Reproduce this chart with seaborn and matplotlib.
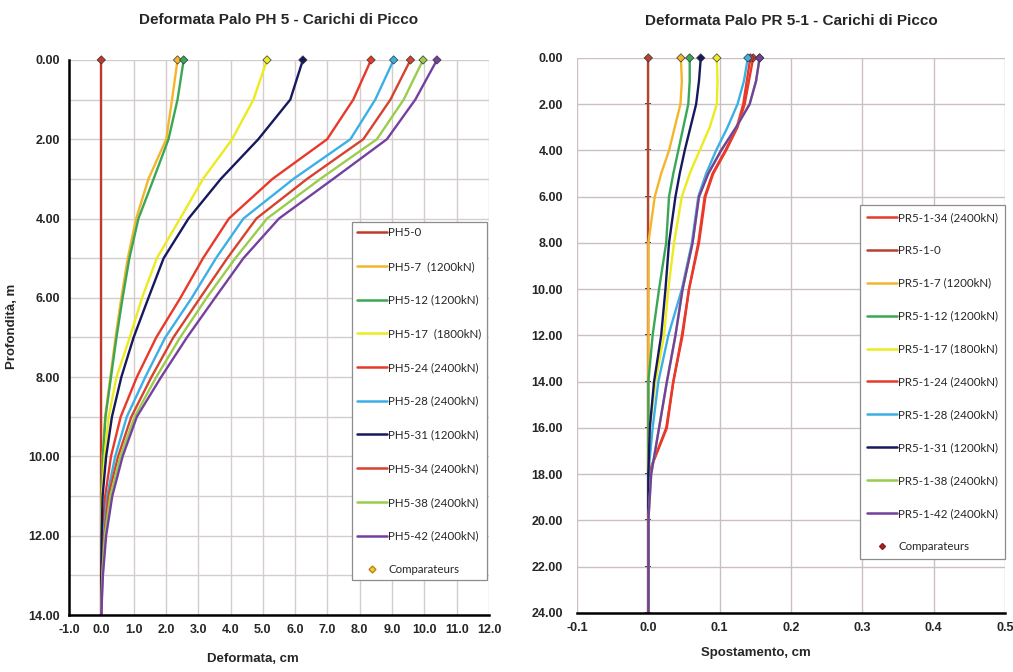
import matplotlib
matplotlib.use("Agg")
import matplotlib.pyplot as plt
from matplotlib.lines import Line2D
import numpy as np
import pandas as pd
import seaborn as sns

# ── Data: left chart (PH 5) ─────────────────────────────────────────
DEPTH_PH = [0, 1, 2, 3, 4, 5, 6, 7, 8, 9, 10, 11, 12, 13, 14]
PH_SERIES = ["PH5-0", "PH5-7  (1200kN)", "PH5-12 (1200kN)", "PH5-17  (1800kN)",
             "PH5-24 (2400kN)", "PH5-28 (2400kN)", "PH5-31 (1200kN)",
             "PH5-34 (2400kN)", "PH5-38 (2400kN)", "PH5-42 (2400kN)"]
PH5_0 = [0.0] * 15
PH5_7 = [2.36, 2.19, 2.01, 1.46, 1.08, 0.82, 0.62, 0.44, 0.28, 0.12, 0.04, 0.01, 0.0, 0.0, 0.0]
PH5_12 = [2.55, 2.36, 2.08, 1.62, 1.15, 0.87, 0.66, 0.47, 0.30, 0.13, 0.05, 0.01, 0.0, 0.0, 0.0]
PH5_17 = [5.13, 4.71, 4.05, 3.15, 2.44, 1.72, 1.26, 0.88, 0.47, 0.23, 0.10, 0.02, 0.0, 0.0, 0.0]
PH5_24 = [8.35, 7.80, 6.99, 5.30, 3.95, 3.15, 2.45, 1.70, 1.10, 0.60, 0.30, 0.12, 0.04, 0.01, 0.0]
PH5_28 = [9.05, 8.48, 7.71, 5.95, 4.40, 3.55, 2.80, 1.98, 1.36, 0.79, 0.43, 0.18, 0.07, 0.02, 0.0]
PH5_31 = [6.24, 5.85, 4.86, 3.70, 2.70, 1.93, 1.46, 1.00, 0.62, 0.33, 0.15, 0.04, 0.01, 0.0, 0.0]
PH5_34 = [9.57, 8.95, 8.11, 6.37, 4.80, 3.90, 3.06, 2.23, 1.55, 0.93, 0.52, 0.22, 0.09, 0.03, 0.0]
PH5_38 = [9.96, 9.36, 8.53, 6.78, 5.13, 4.15, 3.26, 2.44, 1.70, 1.03, 0.59, 0.28, 0.11, 0.03, 0.0]
PH5_42 = [10.39, 9.72, 8.84, 7.18, 5.50, 4.40, 3.52, 2.65, 1.85, 1.10, 0.66, 0.34, 0.15, 0.05, 0.0]
PH_VALUES = [PH5_0, PH5_7, PH5_12, PH5_17, PH5_24, PH5_28, PH5_31, PH5_34, PH5_38, PH5_42]

# ── Data: right chart (PR 5-1) ──────────────────────────────────────
DEPTH_PR = [0, 1, 2, 3, 4, 5, 6, 8, 10, 12, 14, 16, 18, 20, 22, 24]
PR_SERIES = ["PR5-1-34 (2400kN)", "PR5-1-0", "PR5-1-7 (1200kN)", "PR5-1-12 (1200kN)",
             "PR5-1-17 (1800kN)", "PR5-1-24 (2400kN)", "PR5-1-28 (2400kN)",
             "PR5-1-31 (1200kN)", "PR5-1-38 (2400kN)", "PR5-1-42 (2400kN)"]
PR_34 = [0.147, 0.141, 0.135, 0.125, 0.109, 0.091, 0.080, 0.071, 0.057, 0.048, 0.035, 0.026, 0.0, 0.0, 0.0, 0.0]
PR_0 = [0.0] * 16
PR_7 = [0.0456, 0.047, 0.045, 0.037, 0.029, 0.018, 0.009, 0.0, 0.0, 0.0, 0.0, 0.0, 0.0, 0.0, 0.0, 0.0]
PR_12 = [0.058, 0.058, 0.056, 0.049, 0.042, 0.035, 0.029, 0.025, 0.015, 0.006, 0.0, 0.0, 0.0, 0.0, 0.0, 0.0]
PR_17 = [0.096, 0.097, 0.096, 0.086, 0.072, 0.058, 0.047, 0.036, 0.028, 0.022, 0.010, 0.002, 0.0, 0.0, 0.0, 0.0]
PR_24 = [0.143, 0.138, 0.133, 0.124, 0.108, 0.090, 0.079, 0.070, 0.057, 0.047, 0.035, 0.025, 0.0, 0.0, 0.0, 0.0]
PR_28 = [0.1395, 0.134, 0.125, 0.111, 0.095, 0.081, 0.070, 0.061, 0.047, 0.028, 0.014, 0.006, 0.0, 0.0, 0.0, 0.0]
PR_31 = [0.0735, 0.071, 0.067, 0.059, 0.051, 0.044, 0.038, 0.029, 0.024, 0.018, 0.008, 0.002, 0.0, 0.0, 0.0, 0.0]
PR_38 = [0.156, 0.151, 0.142, 0.123, 0.102, 0.084, 0.071, 0.062, 0.048, 0.038, 0.026, 0.015, 0.004, 0.0, 0.0, 0.0]
PR_42 = [0.156, 0.151, 0.142, 0.123, 0.102, 0.084, 0.071, 0.062, 0.048, 0.038, 0.026, 0.015, 0.004, 0.0, 0.0, 0.0]
PR_VALUES = [PR_34, PR_0, PR_7, PR_12, PR_17, PR_24, PR_28, PR_31, PR_38, PR_42]

PH_COLORS = ["#c0392b", "#f5b52a", "#3aa757", "#ebeb1e", "#e8392b",
             "#3bb0e6", "#17195e", "#d5432e", "#9acd4b", "#7440a0"]
PR_COLORS = ["#e8392b", "#b5432f", "#f5b52a", "#3aa757", "#ebeb1e",
             "#e8392b", "#3bb0e6", "#17195e", "#9acd4b", "#7440a0"]

PH_XTICKS = [-1, 0, 1, 2, 3, 4, 5, 6, 7, 8, 9, 10, 11, 12]
PH_YTICKS = [0, 2, 4, 6, 8, 10, 12, 14]
PR_XTICKS = [-0.1, 0.0, 0.1, 0.2, 0.3, 0.4, 0.5]
PR_YTICKS = [0, 2, 4, 6, 8, 10, 12, 14, 16, 18, 20, 22, 24]


def long_df(names, depths, values):
    rows = []
    for name, vals in zip(names, values):
        for d, v in zip(depths, vals):
            rows.append({"series": name, "depth": d, "value": v})
    return pd.DataFrame(rows)


sns.set_theme(style="white")
plt.rcParams["font.family"] = ["Liberation Sans", "DejaVu Sans"]

GRID = "#d6cccc"
LEG_FONT = {"family": "Lato", "size": 8.3}
fig = plt.figure(figsize=(10.13, 6.72), dpi=100)
axL = fig.add_axes([0.0681, 0.0848, 0.4146, 0.826])
axR = fig.add_axes([0.5696, 0.0878, 0.4225, 0.826])

# ── Left chart ──────────────────────────────────────────────────────
df_ph = long_df(PH_SERIES, DEPTH_PH, PH_VALUES)
pal_ph = dict(zip(PH_SERIES, PH_COLORS))
sns.lineplot(data=df_ph, x="value", y="depth", hue="series", hue_order=PH_SERIES,
             palette=pal_ph, sort=False, estimator=None, linewidth=1.7,
             legend=False, ax=axL)
top_ph = df_ph[df_ph["depth"] == 0]
sns.scatterplot(data=top_ph, x="value", y="depth", hue="series", hue_order=PH_SERIES,
                palette=pal_ph, marker="D", s=18, edgecolor="#333333", linewidth=0.5,
                legend=False, ax=axL, zorder=5, clip_on=False)
axL.set_xlim(-1, 12)
axL.set_ylim(14, 0)
axL.set_xticks(PH_XTICKS)
axL.set_xticklabels([f"{t:.1f}" for t in PH_XTICKS], fontweight="bold", fontsize=9)
axL.set_yticks(PH_YTICKS)
axL.set_yticklabels([f"{t:.2f}" for t in PH_YTICKS], fontweight="bold", fontsize=9)
axL.set_yticks([1, 3, 5, 7, 9, 11, 13], minor=True)
axL.grid(which="both", color=GRID, linewidth=1.0)
axL.tick_params(axis="y", which="minor", length=0)
axL.tick_params(axis="both", which="major", direction="inout", length=5, width=1.5,
                color="black", pad=4)
for s in ["top", "right"]:
    axL.spines[s].set_visible(False)
for s in ["left", "bottom"]:
    axL.spines[s].set_color("black")
    axL.spines[s].set_linewidth(1.8)
axL.set_title("Deformata Palo PH 5 - Carichi di Picco", fontsize=11,
              fontweight="bold", pad=26)
axL.set_xlabel("Deformata, cm", fontsize=9.5, fontweight="bold")
axL.set_ylabel("Profondità, m", fontsize=9.5, fontweight="bold")
axL.xaxis.set_label_coords(0.438, -0.068)
axL.yaxis.set_label_coords(-0.122, 0.52)

handles_ph = [Line2D([], [], color=c, lw=1.8) for c in PH_COLORS]
handles_ph.append(Line2D([], [], color="#f5c842", marker="D", markersize=3.5,
                         markeredgecolor="#b8860b", lw=0))
leg = axL.legend(handles_ph, PH_SERIES + ["Comparateurs"], loc="upper right",
                 bbox_to_anchor=(0.995, 0.708), frameon=True, fancybox=False,
                 edgecolor="#8c8c8c", framealpha=1, prop=LEG_FONT,
                 labelspacing=1.97, handlelength=2.6, handletextpad=0.1,
                 borderpad=0.45, borderaxespad=0)
leg.get_frame().set_linewidth(0.9)

# ── Right chart ─────────────────────────────────────────────────────
df_pr = long_df(PR_SERIES, DEPTH_PR, PR_VALUES)
pal_pr = dict(zip(PR_SERIES, PR_COLORS))
sns.lineplot(data=df_pr, x="value", y="depth", hue="series", hue_order=PR_SERIES,
             palette=pal_pr, sort=False, estimator=None, linewidth=1.7,
             legend=False, ax=axR)
top_pr = df_pr[df_pr["depth"] == 0]
sns.scatterplot(data=top_pr, x="value", y="depth", hue="series", hue_order=PR_SERIES,
                palette=pal_pr, marker="D", s=18, edgecolor="#333333", linewidth=0.5,
                legend=False, ax=axR, zorder=5, clip_on=False)
axR.set_xlim(-0.1, 0.5)
axR.set_ylim(24, 0)
axR.set_xticks(PR_XTICKS)
axR.set_xticklabels([f"{t:.1f}" for t in PR_XTICKS], fontweight="bold", fontsize=9)
axR.set_yticks(PR_YTICKS)
axR.set_yticklabels([f"{t:.2f}" for t in PR_YTICKS], fontweight="bold", fontsize=9)
axR.grid(which="major", color="#cbbfbf", linewidth=1.0)
axR.tick_params(axis="y", length=0, pad=10)
axR.tick_params(axis="x", direction="inout", length=5, width=1.5, color="black", pad=4)
for s in ["top", "right", "left"]:
    axR.spines[s].set_visible(False)
axR.spines["bottom"].set_color("black")
axR.spines["bottom"].set_linewidth(1.8)
# vertical axis crossing at 0.0 (ticks only)
sec = axR.secondary_yaxis(1 / 6)
sec.set_yticks(PR_YTICKS)
sec.tick_params(axis="y", labelleft=False, direction="inout", length=4, width=1.2,
                color="black")
sec.spines["left"].set_color("#b5432f")
sec.spines["left"].set_linewidth(0.8)
axR.set_title("Deformata Palo PR 5-1 - Carichi di Picco", fontsize=11,
              fontweight="bold", pad=24)
axR.set_xlabel("Spostamento, cm", fontsize=9.5, fontweight="bold")
axR.set_ylabel("")
axR.xaxis.set_label_coords(0.418, -0.062)

handles_pr = [Line2D([], [], color=c, lw=1.8) for c in PR_COLORS]
handles_pr.append(Line2D([], [], color="#b22222", marker="D", markersize=3,
                         markeredgecolor="#8b1a1a", lw=0))
leg2 = axR.legend(handles_pr, PR_SERIES + ["Comparateurs"], loc="upper right",
                  bbox_to_anchor=(1.0, 0.735), frameon=True, fancybox=False,
                  edgecolor="#8c8c8c", framealpha=1, prop=LEG_FONT,
                  labelspacing=1.9, handlelength=2.6, handletextpad=0.1,
                  borderpad=0.6, borderaxespad=0)
leg2.get_frame().set_linewidth(0.9)

fig.savefig("out.png", dpi=100, facecolor="white")
